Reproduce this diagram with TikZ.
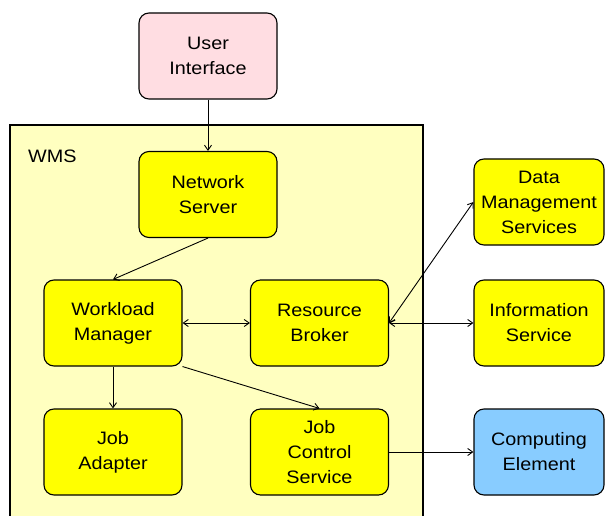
\documentclass[tikz,border=0pt]{standalone}
\usepackage{fontspec}
\setmainfont[FakeStretch=1.1]{Liberation Sans}
\usetikzlibrary{arrows.meta}
\definecolor{uipink}{RGB}{255,221,226}
\definecolor{wmsbg}{RGB}{255,255,192}
\definecolor{boxyellow}{RGB}{255,255,0}
\definecolor{ceblue}{RGB}{136,204,255}
\tikzset{
  comp/.style={draw, line width=1.1pt, rounded corners=10pt, fill=boxyellow,
    minimum width=138pt, minimum height=86pt, align=center, inner sep=0pt,
    font=\fontsize{18}{25}\selectfont},
  ext/.style={comp, minimum width=130pt},
  link/.style={line width=0.9pt, -{Straight Barb[length=5pt,width=7pt]}},
  duplex/.style={line width=0.9pt, {Straight Barb[length=5pt,width=7pt]}-{Straight Barb[length=5pt,width=7pt]}}
}
\begin{document}
\begin{tikzpicture}[x=1pt,y=-1pt]
\useasboundingbox (0,0) rectangle (605,516);
% WMS container (runs off the bottom edge)
\fill[wmsbg] (10,125) rectangle (423,516);
\draw[line width=1.1pt] (10,516) -- (10,125) -- (423,125) -- (423,516);
\node[anchor=base west, font=\fontsize{18}{25}\selectfont, inner sep=0pt] (wms) at (28,162) {WMS};

% components
\node[comp, fill=uipink] (ui) at (208,56) {User\\Interface};
\node[comp] (ns) at (208,194.5) {Network\\Server};
\node[comp] (wm) at (113,323) {Workload\\Manager};
\node[comp] (rb) at (319.5,323) {Resource\\Broker};
\node[comp] (ja) at (113,452) {Job\\Adapter};
\node[comp] (jcs) at (319.5,452) {Job\\Control\\Service};
\node[ext] (dms) at (539,202) {Data\\Management\\Services};
\node[ext] (is) at (539,323) {Information\\Service};
\node[ext, fill=ceblue] (ce) at (539,452) {Computing\\Element};

% connections
\draw[link] (ui.south) -- (ns.north);
\draw[link] (ns.south) -- (wm.north);
\draw[duplex] (wm.east) -- (rb.west);
\draw[link] (wm.south) -- (ja.north);
\draw[link] (wm.south east) -- (jcs.north);
\draw[duplex] (rb.east) -- (dms.west);
\draw[duplex] (rb.east) -- (is.west);
\draw[link] (jcs.east) -- (ce.west);
\end{tikzpicture}
\end{document}
